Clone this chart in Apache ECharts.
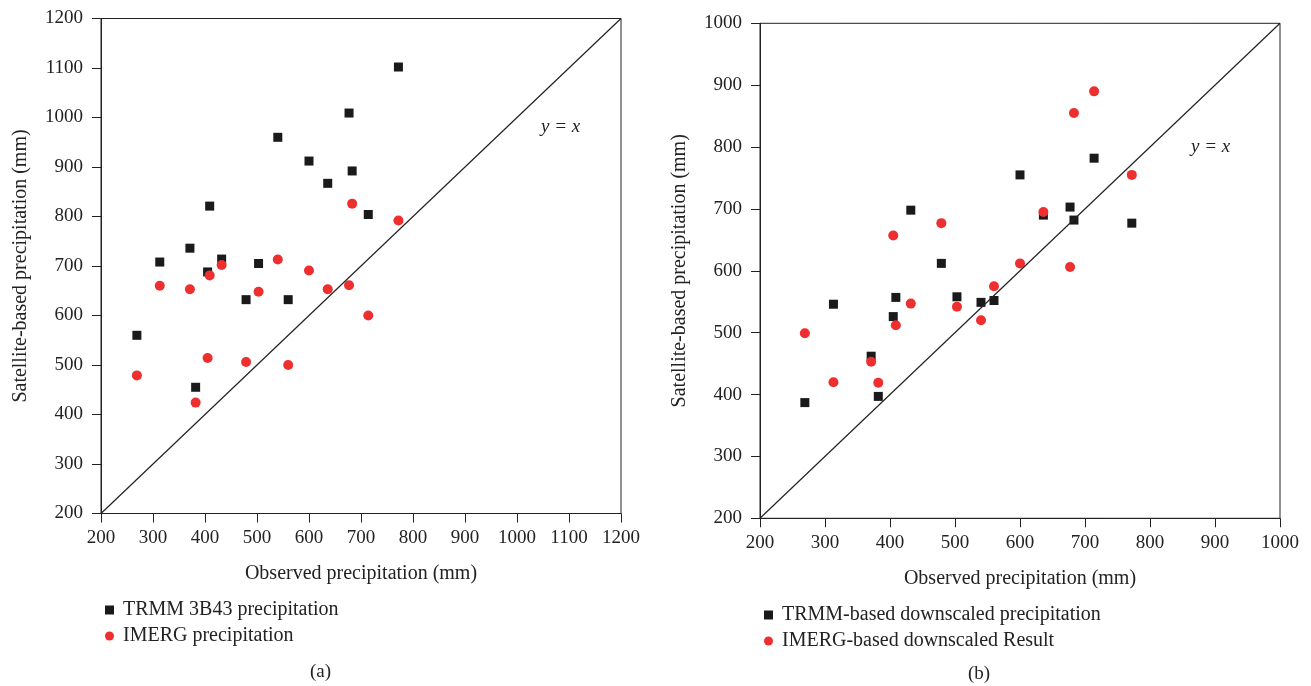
<!DOCTYPE html>
<html>
<head>
<meta charset="utf-8">
<script src="https://cdn.jsdelivr.net/npm/echarts@6/dist/echarts.min.js"></script>
<style>
html, body { margin: 0; padding: 0; background: #fff; }
#chart { width: 1311px; height: 686px; }
</style>
</head>
<body>
<div id="chart"></div>
<script>
// observed precipitation at the stations (mm)
const observed = [269, 313, 371, 382, 405, 409, 432, 479, 503, 540, 560, 600, 636, 677, 683, 714, 772]
// (a) original products
const trmm3b43 = [560, 708, 736, 455, 688, 821, 714, 632, 705, 960, 632, 912, 867, 1009, 892, 804, 1102]
const imerg = [479, 660, 653, 424, 514, 681, 702, 506, 648, 713, 500, 691, 653, 661, 826, 600, 792]
// (b) downscaled results
const trmmDown = [387, 546, 462, 397, 526, 557, 698, 612, 558, 549, 552, 755, 690, 703, 682, 782, 677]
const imergDown = [499, 420, 453, 419, 657, 512, 547, 677, 542, 520, 575, 612, 695, 606, 855, 890, 755]
const rangeA = [200, 1200]
const rangeB = [200, 1000]

const seriesNames = ['TRMM 3B43 precipitation', 'IMERG precipitation', 'TRMM-based downscaled precipitation', 'IMERG-based downscaled Result']

const font = 'Liberation Serif'
const black = '#1a1a1a'
const red = '#ee2f2f'

function pairs(ys) {
  return observed.map(function(x, i) { return [x, ys[i]] })
}

// plain numbers, no thousand separator
function plain(v) {
  return String(v)
}

function xAxis(idx, range) {
  return {
    type: 'value', gridIndex: idx, min: range[0], max: range[1], interval: 100,
    name: 'Observed precipitation (mm)', nameLocation: 'middle', nameGap: 50,
    nameTextStyle: { fontFamily: font, fontSize: 20, color: '#222' },
    axisLine: { lineStyle: { color: '#222', width: 1 } },
    axisTick: { length: 9, lineStyle: { color: '#222' } },
    axisLabel: { fontFamily: font, fontSize: 19, color: '#222', margin: 15, formatter: plain },
    splitLine: { show: false }
  }
}

function yAxis(idx, range) {
  return {
    type: 'value', gridIndex: idx, min: range[0], max: range[1], interval: 100,
    name: 'Satellite-based precipitation (mm)', nameLocation: 'middle', nameGap: 70,
    nameTextStyle: { fontFamily: font, fontSize: 20, color: '#222' },
    axisLine: { lineStyle: { color: '#222', width: 1 } },
    axisTick: { length: 9, lineStyle: { color: '#222' } },
    axisLabel: { fontFamily: font, fontSize: 19, color: '#222', margin: 18, formatter: plain },
    splitLine: { show: false }
  }
}

function legend(left, top, names) {
  return {
    orient: 'vertical', left: left, top: top, itemGap: 6,
    itemWidth: 9, itemHeight: 9,
    textStyle: { fontFamily: font, fontSize: 20, color: '#222', padding: [0, 0, 0, 4] },
    data: [
      { name: names[0], icon: 'rect' },
      { name: names[1], icon: 'circle' }
    ]
  }
}

const chart = echarts.init(document.getElementById('chart'))
chart.setOption({
  animation: false,
  backgroundColor: '#fff',
  grid: [
    { left: 101, top: 18.5, width: 520, height: 495, show: true, borderColor: '#222', borderWidth: 1 },
    { left: 760, top: 23.3, width: 520, height: 495, show: true, borderColor: '#222', borderWidth: 1 }
  ],
  xAxis: [xAxis(0, rangeA), xAxis(1, rangeB)],
  yAxis: [yAxis(0, rangeA), yAxis(1, rangeB)],
  legend: [
    legend(100, 595, [seriesNames[0], seriesNames[1]]),
    legend(759, 600, [seriesNames[2], seriesNames[3]])
  ],
  graphic: [
    { type: 'text', left: 541, top: 117, style: { text: 'y = x', font: 'italic 19px "Liberation Serif"', fill: '#222' } },
    { type: 'text', left: 1191, top: 137, style: { text: 'y = x', font: 'italic 19px "Liberation Serif"', fill: '#222' } },
    { type: 'text', left: 310, top: 663, style: { text: '(a)', font: '19px "Liberation Serif"', fill: '#222' } },
    { type: 'text', left: 968, top: 665, style: { text: '(b)', font: '19px "Liberation Serif"', fill: '#222' } }
  ],
  series: [
    {
      type: 'line', xAxisIndex: 0, yAxisIndex: 0, silent: true, symbol: 'none',
      lineStyle: { color: '#222', width: 1.2 }, data: [[rangeA[0], rangeA[0]], [rangeA[1], rangeA[1]]]
    },
    {
      type: 'line', xAxisIndex: 1, yAxisIndex: 1, silent: true, symbol: 'none',
      lineStyle: { color: '#222', width: 1.2 }, data: [[rangeB[0], rangeB[0]], [rangeB[1], rangeB[1]]]
    },
    {
      name: seriesNames[0], type: 'scatter', xAxisIndex: 0, yAxisIndex: 0,
      symbol: 'rect', symbolSize: 9, itemStyle: { color: black, opacity: 1 }, data: pairs(trmm3b43)
    },
    {
      name: seriesNames[1], type: 'scatter', xAxisIndex: 0, yAxisIndex: 0,
      symbol: 'circle', symbolSize: 10, itemStyle: { color: red, opacity: 1 }, data: pairs(imerg)
    },
    {
      name: seriesNames[2], type: 'scatter', xAxisIndex: 1, yAxisIndex: 1,
      symbol: 'rect', symbolSize: 9, itemStyle: { color: black, opacity: 1 }, data: pairs(trmmDown)
    },
    {
      name: seriesNames[3], type: 'scatter', xAxisIndex: 1, yAxisIndex: 1,
      symbol: 'circle', symbolSize: 10, itemStyle: { color: red, opacity: 1 }, data: pairs(imergDown)
    }
  ]
})
</script>
</body>
</html>
